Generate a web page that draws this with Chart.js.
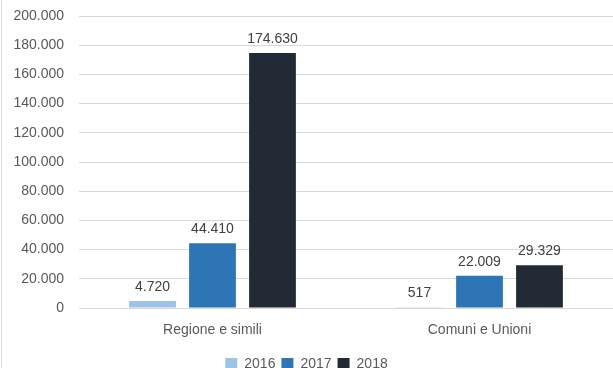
<!DOCTYPE html>
<html>
<head>
<meta charset="utf-8">
<script src="https://cdn.jsdelivr.net/npm/chart.js@4/dist/chart.umd.min.js"></script>
<style>
    html, body { margin: 0; padding: 0; background: #fff; }
    #wrap { position: relative; width: 613px; height: 368px; }
    #edge { position: absolute; left: 1px; top: 0; width: 1px; height: 368px; background: #d9d9d9; }
</style>
</head>
<body>
<div id="wrap">
    <canvas id="chart" width="613" height="368"></canvas>
    <div id="edge"></div>
</div>
<script>
// values
const categories = ["Regione e simili", "Comuni e Unioni"];
const years = ["2016", "2017", "2018"];
const values2016 = [4720, 517];
const values2017 = [44410, 22009];
const values2018 = [174630, 29329];
const yTicks = [0, 20000, 40000, 60000, 80000, 100000, 120000, 140000, 160000, 180000, 200000];

const colors = ["#9DC3E6", "#2E75B6", "#222A35"];
const fontFamily = "'Liberation Sans', Arial, sans-serif";

// 1234567 -> "1.234.567"
const fmt = (v) => String(Math.round(v)).replace(/\B(?=(\d{3})+(?!\d))/g, ".");

const valueLabels = {
    id: "valueLabels",
    afterDatasetsDraw(chart) {
        const ctx = chart.ctx;
        ctx.save();
        ctx.font = "14px " + fontFamily;
        ctx.fillStyle = "#404040";
        ctx.textAlign = "center";
        ctx.textBaseline = "bottom";
        chart.data.datasets.forEach((ds, i) => {
            chart.getDatasetMeta(i).data.forEach((bar, j) => {
                ctx.fillText(fmt(ds.data[j]), bar.x, bar.y - 7);
            });
        });
        ctx.restore();
    },
};

new Chart(document.getElementById("chart"), {
    type: "bar",
    data: {
        labels: categories,
        datasets: [
            { label: years[0], data: values2016, backgroundColor: colors[0] },
            { label: years[1], data: values2017, backgroundColor: colors[1] },
            { label: years[2], data: values2018, backgroundColor: colors[2] },
        ],
    },
    options: {
        responsive: false,
        animation: false,
        layout: { padding: { top: 16, right: 0, left: 0, bottom: -13 } },
        datasets: {
            bar: { categoryPercentage: 0.674, barPercentage: 0.78 },
        },
        plugins: {
            legend: {
                position: "bottom",
                labels: {
                    boxWidth: 12,
                    boxHeight: 12,
                    padding: 6,
                    color: "#595959",
                    font: { size: 14, family: fontFamily },
                },
            },
            tooltip: { enabled: false },
        },
        scales: {
            x: {
                grid: { display: false },
                border: { color: "#d9d9d9" },
                ticks: {
                    color: "#595959",
                    font: { size: 14, family: fontFamily },
                    padding: 6,
                },
                afterFit(scale) { scale.height = 43; },
            },
            y: {
                min: 0,
                max: 200000,
                afterBuildTicks(scale) {
                    scale.ticks = yTicks.map((v) => ({ value: v }));
                },
                grid: { color: "#d9d9d9", drawTicks: false },
                border: { display: false },
                ticks: {
                    color: "#595959",
                    font: { size: 14, family: fontFamily },
                    padding: 15,
                    callback: (v) => fmt(v),
                },
                afterFit(scale) {
                    scale.width = 79;
                    scale.paddingTop = 0;
                    scale.paddingBottom = 0;
                },
            },
        },
    },
    plugins: [valueLabels],
});
</script>
</body>
</html>
